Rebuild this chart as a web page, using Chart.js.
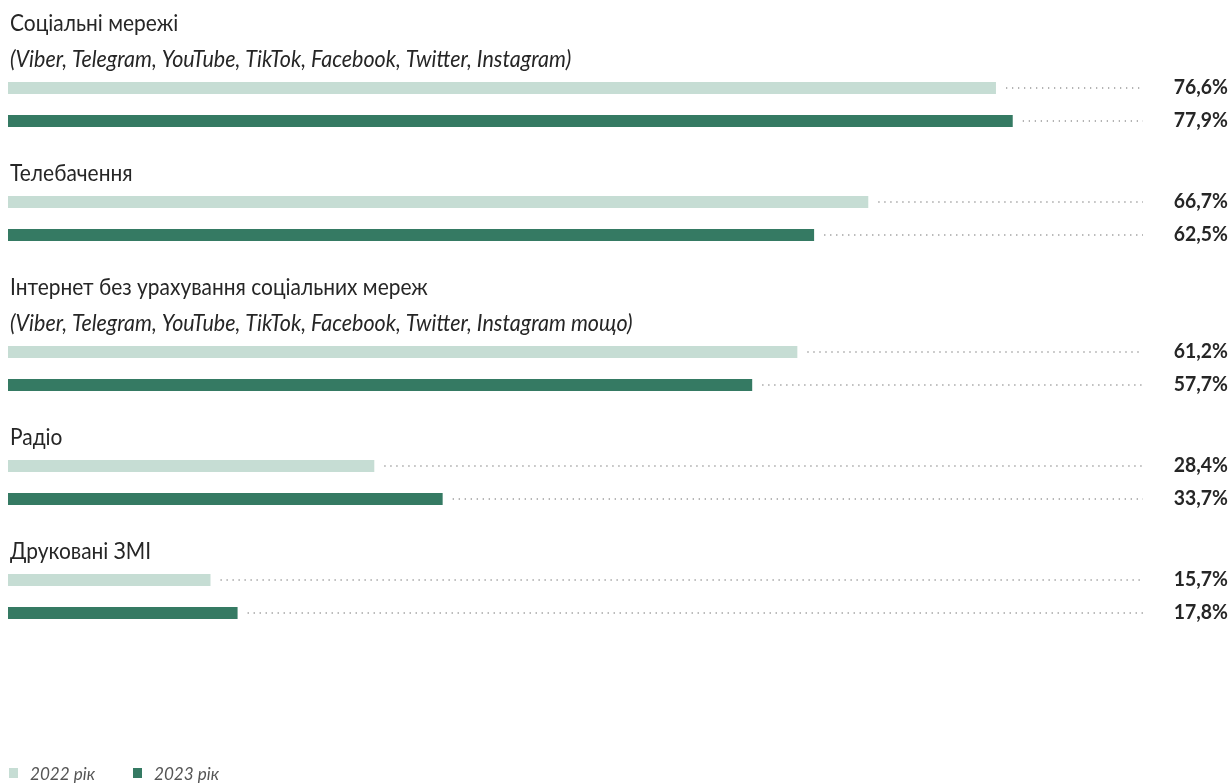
<!DOCTYPE html>
<html>
<head>
<meta charset="utf-8">
<script src="https://cdn.jsdelivr.net/npm/chart.js@4.4.1/dist/chart.umd.min.js"></script>
<style>
  html, body { margin: 0; padding: 0; background: #fff; }
  #wrap { width: 1232px; height: 784px; position: relative; }
</style>
</head>
<body>
<div id="wrap"><canvas id="myChart"></canvas></div>
<script>
// categories (title line + optional italic second line)
const categories = ['Соціальні мережі', 'Телебачення', 'Інтернет без урахування соціальних мереж', 'Радіо', 'Друковані ЗМІ'];
const subtitles = ['(Viber, Telegram, YouTube, TikTok, Facebook, Twitter, Instagram)', '', '(Viber, Telegram, YouTube, TikTok, Facebook, Twitter, Instagram тощо)', '', ''];
const seriesNames = ['2022 рік', '2023 рік'];
const values2022 = [76.6, 66.7, 61.2, 28.4, 15.7];
const values2023 = [77.9, 62.5, 57.7, 33.7, 17.8];

const colors = ['#c6ddd4', '#357a63'];

// vertical layout in px-units of the (hidden) linear y scale
const TOP = 24, LINE = 36, TITLE_TO_BAR = 28, BAR_GAP = 33, GROUP_GAP = 53;
const titleRows = [], rows2022 = [], rows2023 = [];
let cursor = TOP;
categories.forEach((c, i) => {
    titleRows.push(cursor);
    cursor += (subtitles[i] ? LINE : 0) + TITLE_TO_BAR;
    rows2022.push(cursor);
    cursor += BAR_GAP;
    rows2023.push(cursor);
    cursor += GROUP_GAP;
});

const fmt = v => v.toFixed(1).replace('.', ',') + '%';

// narrow text like the original's condensed face
function squeezed(ctx, text, x, y, sx) {
    ctx.save();
    ctx.translate(x, y);
    ctx.scale(sx, 1);
    ctx.fillText(text, 0, 0);
    ctx.restore();
}

const labelsPlugin = {
    id: 'labels',
    afterDatasetsDraw(chart) {
        const {ctx, chartArea, scales: {x, y}} = chart;
        ctx.save();
        ctx.textBaseline = 'middle';
        // group titles
        categories.forEach((c, i) => {
            const ty = y.getPixelForValue(titleRows[i]);
            ctx.fillStyle = '#262626';
            ctx.textAlign = 'left';
            ctx.font = '23px Lato';
            squeezed(ctx, c, 10, ty, 0.91);
            if (subtitles[i]) {
                ctx.font = 'italic 23px Lato';
                squeezed(ctx, subtitles[i], 10, ty + (y.getPixelForValue(LINE) - y.getPixelForValue(0)), 0.935);
            }
        });
        // dotted leaders + values
        chart.data.datasets.forEach((ds, di) => {
            const meta = chart.getDatasetMeta(di);
            meta.data.forEach((bar, j) => {
                const by = bar.y;
                ctx.strokeStyle = '#9a9a9a';
                ctx.lineWidth = 1.3;
                ctx.setLineDash([1.3, 4.7]);
                ctx.beginPath();
                ctx.moveTo(bar.x + 10, by);
                ctx.lineTo(chartArea.right, by);
                ctx.stroke();
                ctx.setLineDash([]);
                ctx.fillStyle = '#262626';
                ctx.font = 'bold 20px Lato';
                ctx.textAlign = 'right';
                squeezed(ctx, fmt(ds.data[j].x), 1228, by, 0.97);
            });
        });
        // legend
        const lx = [9, 133];
        chart.data.datasets.forEach((ds, di) => {
            ctx.fillStyle = ds.backgroundColor;
            ctx.fillRect(lx[di], 768, 9, 10);
            ctx.fillStyle = '#555';
            ctx.font = 'italic 18px Lato';
            ctx.textAlign = 'left';
            squeezed(ctx, ds.label, lx[di] + 21, 774, 0.95);
        });
        ctx.restore();
    }
};

const ctx = document.getElementById('myChart');
const myChart = new Chart(ctx, {
    type: 'bar',
    data: {
        datasets: [{
            label: seriesNames[0],
            data: values2022.map((v, i) => ({x: v, y: rows2022[i]})),
            backgroundColor: colors[0],
        }, {
            label: seriesNames[1],
            data: values2023.map((v, i) => ({x: v, y: rows2023[i]})),
            backgroundColor: colors[1],
        }]
    },
    options: {
        indexAxis: 'y',
        responsive: true,
        maintainAspectRatio: false,
        animation: false,
        grouped: false,
        maxBarThickness: 12,
        layout: { padding: { left: 8, right: 89, top: 0, bottom: 0 } },
        plugins: {
            legend: { display: false },
            title: { display: false },
            tooltip: { enabled: false }
        },
        scales: {
            x: { type: 'linear', min: 0, max: 88, display: false },
            y: { type: 'linear', min: 0, max: 784, reverse: true, offset: false, display: false }
        }
    },
    plugins: [labelsPlugin]
});
</script>
</body>
</html>
